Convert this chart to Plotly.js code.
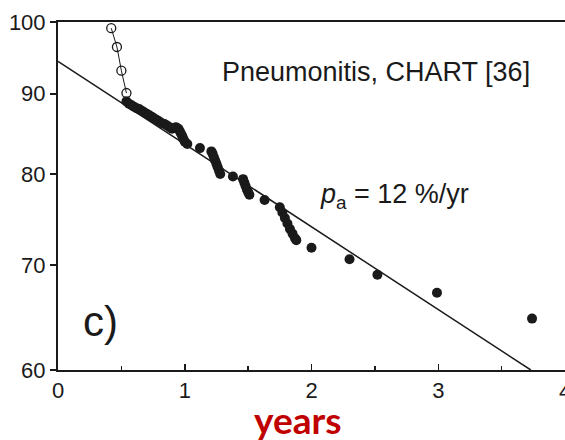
<!DOCTYPE html>
<html>
<head>
<meta charset="utf-8">
<script src="https://cdn.plot.ly/plotly-3.0.1.min.js"></script>
<style>
  html, body { margin: 0; padding: 0; background: #fff; }
  #chart { width: 565px; height: 440px; }
</style>
</head>
<body>
<div id="chart"></div>
<script>
// open circles (early points)
var openX = [0.42, 0.465, 0.50, 0.54];
var openY = [99.1, 96.4, 93.1, 90.1];

// filled points
var dotX = [0.54, 0.56, 0.58, 0.60, 0.62, 0.64, 0.66, 0.68, 0.70, 0.72, 0.74, 0.76, 0.78, 0.80,
  0.82, 0.84, 0.86, 0.88, 0.90, 0.93, 0.95, 0.96, 0.97, 0.98, 0.99, 1.00, 1.02, 1.12,
  1.21, 1.22, 1.23, 1.24, 1.25, 1.26, 1.27, 1.28, 1.38, 1.46, 1.47, 1.48, 1.49, 1.50, 1.51,
  1.63, 1.75, 1.77, 1.79, 1.81, 1.83, 1.85, 1.87, 1.88, 2.00, 2.30, 2.52, 2.99, 3.74];
var dotY = [89.0, 88.7, 88.5, 88.3, 88.1, 88.0, 87.8, 87.6, 87.4, 87.2, 87.0, 86.8, 86.6, 86.4,
  86.2, 86.1, 85.9, 85.7, 85.5, 85.7, 85.5, 85.2, 84.9, 84.6, 84.2, 83.9, 83.6, 83.1,
  82.7, 82.4, 82.0, 81.6, 81.2, 80.8, 80.4, 80.0, 79.7, 79.4, 79.0, 78.6, 78.2, 77.9, 77.6,
  77.0, 76.2, 75.6, 75.0, 74.4, 73.8, 73.3, 72.8, 72.6, 71.8, 70.6, 69.0, 67.2, 64.7];

// fitted line, p_a = 12 %/yr
var fitX = [0, 3.73];
var fitY = [94.4, 60];

var yTicks = [60, 70, 80, 90, 100];
var xTicks = [0, 1, 2, 3, 4];

var ink = '#1a1a1a';

var traces = [
  {
    x: fitX, y: fitY, mode: 'lines', type: 'scatter',
    line: {color: ink, width: 1.5}, hoverinfo: 'skip'
  },
  {
    x: openX, y: openY, mode: 'lines+markers', type: 'scatter',
    line: {color: ink, width: 1},
    marker: {symbol: 'circle-open', size: 9, color: ink, line: {width: 1.3}}
  },
  {
    x: dotX, y: dotY, mode: 'markers', type: 'scatter',
    marker: {size: 10, color: ink}
  }
];

var layout = {
  width: 565, height: 440,
  margin: {l: 58, r: 0, t: 22, b: 70},
  showlegend: false,
  paper_bgcolor: '#fff', plot_bgcolor: '#fff',
  font: {family: 'Liberation Sans, Arial, sans-serif', color: ink},
  xaxis: {
    range: [0, 4], tickvals: xTicks, ticktext: xTicks.map(String),
    showgrid: false, zeroline: false,
    showline: true, linewidth: 2, linecolor: ink, mirror: true,
    ticks: 'inside', ticklen: 6, tickwidth: 1.5, tickcolor: ink,
    minor: {dtick: 0.5, ticks: 'inside', ticklen: 4, tickwidth: 1.5, tickcolor: ink},
    tickfont: {size: 22, color: ink}
  },
  yaxis: {
    type: 'log', range: [Math.log10(60), 2],
    tickvals: yTicks, ticktext: yTicks.map(String),
    showgrid: false, zeroline: false,
    showline: true, linewidth: 2, linecolor: ink,
    ticks: 'outside', ticklen: 6, tickwidth: 1.5, tickcolor: ink,
    tickfont: {size: 22, color: ink}
  },
  annotations: [
    {
      // tick label at the right edge, half cut like the reference
      text: '4', xref: 'x', yref: 'paper',
      x: 4, y: -0.02, yanchor: 'top', showarrow: false,
      font: {size: 22, color: ink}
    },
    {
      text: 'Pneumonitis, CHART [36]', xref: 'paper', yref: 'paper',
      x: 0.32, xanchor: 'left', y: 0.855, yanchor: 'middle', showarrow: false,
      font: {size: 27, color: ink}
    },
    {
      text: '<i>p</i><sub>a</sub> = 12 %/yr', xref: 'paper', yref: 'paper',
      x: 0.512, xanchor: 'left', y: 0.5, yanchor: 'middle', showarrow: false,
      font: {size: 27, color: ink}
    },
    {
      text: 'c)', xref: 'paper', yref: 'paper',
      x: 0.083, xanchor: 'center', y: 0.138, yanchor: 'middle', showarrow: false,
      font: {size: 42, color: ink}
    },
    {
      text: '<b>years</b>', xref: 'paper', yref: 'paper',
      x: 0.472, xanchor: 'center', y: -0.143, yanchor: 'middle', showarrow: false,
      font: {family: 'Lato, sans-serif', size: 37, color: '#c00000'}
    }
  ]
};

Plotly.newPlot('chart', traces, layout, {displayModeBar: false, staticPlot: true});
</script>
</body>
</html>
